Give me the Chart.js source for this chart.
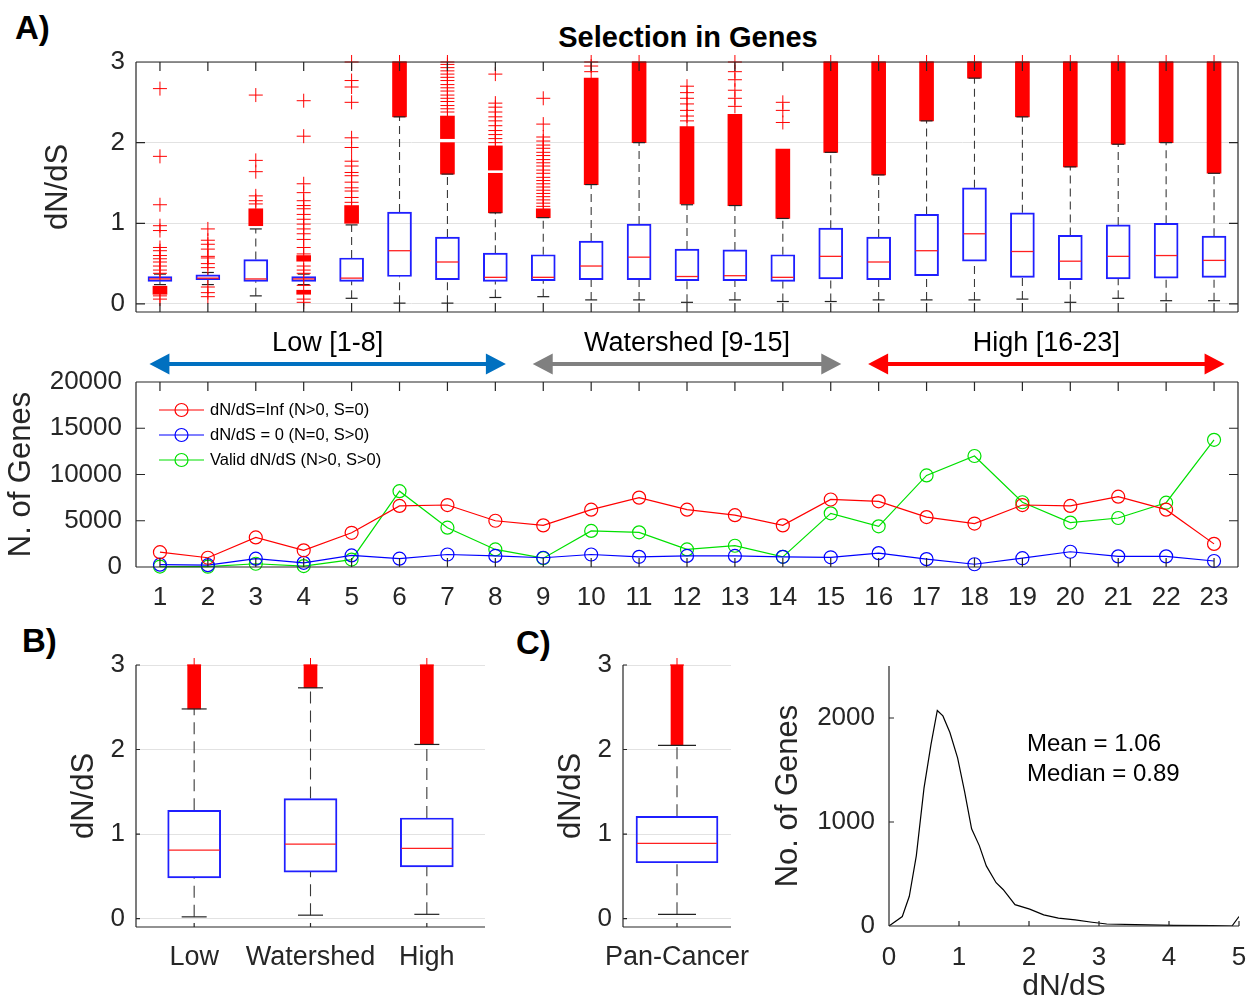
<!DOCTYPE html>
<html>
<head>
<meta charset="utf-8">
<title>Selection in Genes</title>
<script src="https://cdn.jsdelivr.net/npm/chart.js@4.4.1/dist/chart.umd.min.js"></script>
<style>
  html, body { margin: 0; padding: 0; background: #fff; }
  body { position: relative; width: 1255px; height: 998px; overflow: hidden; font-family: "Liberation Sans", Arial, sans-serif; color: #000; }
  canvas { position: absolute; }
  .tag { position: absolute; font-weight: bold; line-height: 1; white-space: nowrap; }
</style>
</head>
<body>
<div class="tag" style="left:15px; top:11px; font-size:33px;">A)</div>
<div class="tag" style="left:438px; width:500px; text-align:center; top:23px; font-size:29px;">Selection in Genes</div>
<div class="tag" style="left:22px; top:624px; font-size:33px;">B)</div>
<div class="tag" style="left:516px; top:626px; font-size:33px;">C)</div>

<canvas id="genesBox" width="1210" height="312" style="left:40px; top:30px;"></canvas>
<canvas id="geneCounts" width="1250" height="298" style="left:0px; top:322px;"></canvas>
<canvas id="groupBox" width="450" height="368" style="left:50px; top:630px;"></canvas>
<canvas id="panHist" width="520" height="368" style="left:755px; top:630px;"></canvas>
<canvas id="panBox" width="235" height="368" style="left:545px; top:630px;"></canvas>

<script>
// ---------- data ----------
const categories = [1, 2, 3, 4, 5, 6, 7, 8, 9, 10, 11, 12, 13, 14, 15, 16, 17, 18, 19, 20, 21, 22, 23];

// A) boxplot stats per category
const boxQ1  = [0.28, 0.30, 0.28, 0.28, 0.28, 0.34, 0.30, 0.28, 0.29, 0.30, 0.30, 0.29, 0.29, 0.28, 0.31, 0.30, 0.35, 0.53, 0.33, 0.30, 0.31, 0.32, 0.33];
const boxMed = [0.31, 0.32, 0.31, 0.31, 0.32, 0.66, 0.52, 0.33, 0.33, 0.47, 0.58, 0.34, 0.35, 0.33, 0.59, 0.52, 0.66, 0.87, 0.65, 0.53, 0.59, 0.60, 0.54];
const boxQ3  = [0.34, 0.36, 0.55, 0.34, 0.57, 1.14, 0.83, 0.63, 0.61, 0.78, 0.99, 0.68, 0.67, 0.61, 0.94, 0.83, 1.11, 1.44, 1.13, 0.85, 0.98, 1.00, 0.84];
const whiskLo = [0.24, 0.24, 0.10, 0.24, 0.07, 0.01, 0.01, 0.08, 0.09, 0.05, 0.05, 0.02, 0.05, 0.03, 0.03, 0.05, 0.05, 0.05, 0.06, 0.02, 0.07, 0.04, 0.04];
const whiskHi = [0.37, 0.39, 0.93, 0.37, 0.98, 2.32, 1.61, 1.13, 1.07, 1.48, 2.00, 1.23, 1.22, 1.06, 1.88, 1.60, 2.27, 2.80, 2.32, 1.70, 1.98, 2.00, 1.62];
// dense runs of outliers (they merge into solid red)
const outlierRuns = [
  [[0.12, 0.22]], [], [[0.97, 1.18]], [[0.53, 0.60], [0.12, 0.17]], [[1.00, 1.22]],
  [[2.32, 3.0]], [[1.61, 2.0], [2.05, 2.33]], [[1.13, 1.62], [1.66, 1.96]],
  [[1.07, 1.18]], [[1.48, 2.8]], [[2.0, 3.0]], [[1.24, 2.2]],
  [[1.22, 2.35]], [[1.06, 1.92]], [[1.88, 3.0]], [[1.6, 3.0]], [[2.27, 3.0]], [[2.8, 3.0]],
  [[2.32, 3.0]], [[1.7, 3.0]], [[1.98, 3.0]], [[2.0, 3.0]], [[1.62, 3.0]]
];
// single outliers
const outlierPts = [
  [2.67, 1.83, 1.23, 0.97, 0.91, 0.70, 0.66, 0.60, 0.56, 0.52, 0.47, 0.42, 0.38, 0.10, 0.06],
  [0.93, 0.79, 0.74, 0.68, 0.59, 0.57, 0.50, 0.45, 0.21, 0.14, 0.09],
  [2.59, 1.78, 1.64, 1.34, 1.28, 1.24],
  [2.52, 2.08, 1.49, 1.38, 1.28, 1.22, 1.18, 1.11, 1.05, 0.99, 0.93, 0.87, 0.80, 0.70, 0.62, 0.47, 0.42, 0.38, 0.23, 0.06, 0.02],
  [3.0, 2.77, 2.69, 2.50, 2.06, 1.94, 1.77, 1.71, 1.63, 1.59, 1.51, 1.44, 1.40, 1.32, 1.26],
  [3.0],
  [3.0, 2.97, 2.93, 2.89, 2.85, 2.81, 2.77, 2.72, 2.68, 2.64, 2.59, 2.55, 2.51, 2.46, 2.42, 2.38],
  [2.85, 2.49, 2.44, 2.38, 2.32, 2.27, 2.21, 2.15, 2.10, 2.05, 2.0],
  [2.55, 2.23, 2.07, 2.02, 1.97, 1.93, 1.88, 1.84, 1.79, 1.75, 1.71, 1.66, 1.62, 1.57, 1.53, 1.49, 1.45, 1.41, 1.37, 1.33, 1.29, 1.25, 1.21],
  [3.0, 2.95, 2.88], [3.0],
  [2.70, 2.62, 2.55, 2.48, 2.40, 2.33, 2.27],
  [3.0, 2.88, 2.78, 2.65, 2.55, 2.45],
  [2.50, 2.40, 2.25],
  [3.0], [3.0], [3.0], [3.0], [3.0], [3.0], [3.0], [3.0], [3.0]
];
const ratioTicks = [0, 1, 2, 3];

// A) gene counts
const seriesNames = ['dN/dS=Inf (N>0, S=0)', 'dN/dS = 0 (N=0, S>0)', 'Valid dN/dS (N>0, S>0)'];
const infCounts   = [1600, 1000, 3200, 1800, 3700, 6600, 6700, 5000, 4500, 6200, 7500, 6200, 5600, 4500, 7300, 7100, 5400, 4700, 6700, 6600, 7600, 6200, 2500];
const zeroCounts  = [250, 200, 900, 450, 1250, 900, 1350, 1200, 1000, 1350, 1100, 1200, 1200, 1100, 1050, 1500, 850, 300, 950, 1650, 1150, 1150, 650];
const validCounts = [50, 30, 350, 100, 800, 8200, 4250, 1900, 950, 3900, 3750, 1900, 2300, 1100, 5800, 4400, 9900, 12000, 7000, 4800, 5300, 6950, 13750];
const countTicks = [0, 5000, 10000, 15000, 20000];
const regionLabels = ['Low [1-8]', 'Watershed [9-15]', 'High [16-23]'];
const regionStart = [1, 9, 16];
const regionEnd = [8, 15, 23];

// B) grouped boxplots
const groupNames = ['Low', 'Watershed', 'High'];
const grpQ1  = [0.48, 0.55, 0.61];
const grpMed = [0.81, 0.88, 0.83];
const grpQ3  = [1.28, 1.42, 1.19];
const grpLo  = [0.02, 0.04, 0.05];
const grpHi  = [2.48, 2.73, 2.06];
const grpRuns = [[[2.48, 3.0]], [[2.73, 3.0]], [[2.06, 3.0]]];
const grpPts = [[3.0], [3.0], [3.0]];

// C) pan-cancer boxplot + distribution
const panNames = ['Pan-Cancer'];
const panQ1 = [0.66], panMed = [0.89], panQ3 = [1.21], panLo = [0.05], panHi = [2.05];
const panRuns = [[[2.05, 3.0]]];
const panPts = [[3.0]];
const histX = [0, 0.19, 0.29, 0.39, 0.50, 0.60, 0.69, 0.77, 0.87, 0.98, 1.08, 1.18, 1.29, 1.39, 1.53, 1.63, 1.80, 2.01, 2.21, 2.42, 2.66, 2.90, 3.11, 3.52, 4.07, 4.62, 4.90, 5.0];
const histY = [0, 91, 286, 675, 1325, 1747, 2072, 2020, 1860, 1617, 1292, 935, 773, 578, 416, 351, 205, 162, 107, 75, 58, 36, 19, 13, 6, 3, 0, 91];
const histXTicks = [0, 1, 2, 3, 4, 5];
const histYTicks = [0, 1000, 2000];
const statLines = ['Mean = 1.06', 'Median = 0.89'];

// ---------- helpers ----------
const FONT = '"Liberation Sans", Arial, sans-serif';
const AXIS = '#262626';
Chart.defaults.font.family = FONT;
Chart.defaults.color = AXIS;
Chart.defaults.animation = false;
Chart.defaults.events = [];
Chart.defaults.plugins.legend.display = false;
Chart.defaults.plugins.tooltip.enabled = false;

const fixTicks = vals => s => { s.ticks = vals.map(value => ({ value })); };

function boxDatasets(xs, q1, med, q3, lo, hi, runs, pts, s) {
  const runData = [];
  xs.forEach((x, i) => runs[i].forEach(r => runData.push({ x, y: r })));
  const whisk = [];
  xs.forEach((x, i) => {
    whisk.push({ x, y: q3[i] }, { x, y: hi[i] }, { x, y: null });
    whisk.push({ x, y: lo[i] }, { x, y: q1[i] }, { x, y: null });
  });
  return [
    { type: 'scatter', data: xs.flatMap((x, i) => pts[i].map(y => ({ x, y }))),
      pointStyle: 'cross', pointRadius: s.cross, borderColor: '#ff0000', borderWidth: 1, clip: false },
    { type: 'scatter', data: xs.map((x, i) => ({ x, y: med[i] })),
      pointStyle: 'line', pointRadius: s.box / 2 - 1, borderColor: '#ff2020', borderWidth: 1.3 },
    { type: 'scatter', data: xs.flatMap((x, i) => [{ x, y: lo[i] }, { x, y: hi[i] }]),
      pointStyle: 'line', pointRadius: s.cap, borderColor: '#222', borderWidth: 1.2, clip: false },
    { type: 'bar', data: xs.map((x, i) => ({ x, y: [q1[i], q3[i]] })), grouped: false,
      backgroundColor: 'rgba(0,0,0,0)', borderColor: '#1f1fff', borderWidth: 1.3, borderSkipped: false, barThickness: s.box },
    { type: 'line', data: whisk, borderColor: '#3a3a3a', borderWidth: 1.1, borderDash: s.dash,
      pointRadius: 0, spanGaps: false },
    { type: 'bar', data: runData, grouped: false, backgroundColor: '#ff0000', borderWidth: 0, barThickness: s.run, clip: false }
  ];
}

function axesDecor(cfg) {
  return {
    id: 'axesDecor',
    afterDatasetsDraw(chart) {
      const { ctx, chartArea: a, scales: { x, y } } = chart;
      ctx.save();
      ctx.strokeStyle = AXIS;
      ctx.lineWidth = 1.2;
      ctx.setLineDash([]);
      ctx.beginPath();
      const seg = (x1, y1, x2, y2) => { ctx.moveTo(x1, y1); ctx.lineTo(x2, y2); };
      if (cfg.frame.includes('l')) seg(a.left, a.top, a.left, a.bottom);
      if (cfg.frame.includes('r')) seg(a.right, a.top, a.right, a.bottom);
      if (cfg.frame.includes('t')) seg(a.left, a.top, a.right, a.top);
      if (cfg.frame.includes('b')) seg(a.left, a.bottom, a.right, a.bottom);
      cfg.xTicks.forEach(v => {
        const p = x.getPixelForValue(v);
        if (cfg.xSides.includes('b')) seg(p, a.bottom, p, a.bottom - cfg.len);
        if (cfg.xSides.includes('t')) seg(p, a.top, p, a.top + cfg.len);
      });
      cfg.yTicks.forEach(v => {
        const p = y.getPixelForValue(v);
        if (cfg.ySides.includes('l')) seg(a.left, p, a.left + cfg.len, p);
        if (cfg.ySides.includes('r')) seg(a.right, p, a.right - cfg.len, p);
      });
      ctx.stroke();
      if (cfg.extra) cfg.extra(chart, ctx);
      ctx.restore();
    }
  };
}

function ratioAxis(width, titlePad) {
  return {
    type: 'linear', min: -0.1, max: 3,
    afterBuildTicks: fixTicks(ratioTicks),
    afterFit: s => { s.width = width; },
    grid: { color: '#e2e2e2', drawTicks: false },
    border: { display: false },
    ticks: { font: { size: 26 }, padding: 11, callback: v => String(v) },
    title: { display: true, text: 'dN/dS', font: { size: 31 }, padding: { top: titlePad, bottom: 0 } }
  };
}

function drawArrow(ctx, x1, x2, y, color) {
  const head = 20, half = 10.5;
  ctx.strokeStyle = color;
  ctx.fillStyle = color;
  ctx.lineWidth = 4;
  ctx.beginPath();
  ctx.moveTo(x1 + head - 2, y);
  ctx.lineTo(x2 - head + 2, y);
  ctx.stroke();
  ctx.beginPath();
  ctx.moveTo(x1, y); ctx.lineTo(x1 + head, y - half); ctx.lineTo(x1 + head, y + half); ctx.closePath();
  ctx.moveTo(x2, y); ctx.lineTo(x2 - head, y - half); ctx.lineTo(x2 - head, y + half); ctx.closePath();
  ctx.fill();
}

// ---------- A) top: dN/dS per category ----------
new Chart(document.getElementById('genesBox'), {
  type: 'bar',
  data: { datasets: boxDatasets(categories, boxQ1, boxMed, boxQ3, whiskLo, whiskHi, outlierRuns, outlierPts,
    { box: 24, run: 14, cap: 6, cross: 7, dash: [8, 5] }) },
  options: {
    responsive: false,
    layout: { autoPadding: false, padding: { left: 0, top: 32, right: 12, bottom: 30 } },
    scales: {
      x: { type: 'linear', min: 0.5, max: 23.5, offset: false, display: false },
      y: ratioAxis(96, 0)
    }
  },
  plugins: [axesDecor({ frame: 'lrtb', len: 9, xTicks: categories, xSides: 'tb', yTicks: ratioTicks, ySides: 'lr' })]
});

// ---------- A) bottom: gene counts ----------
const seriesColors = ['#ff0000', '#0000ff', '#00e000'];
const regionColors = ['#0070c0', '#808080', '#ff0000'];
const countSeries = [infCounts, zeroCounts, validCounts];

new Chart(document.getElementById('geneCounts'), {
  type: 'line',
  data: {
    datasets: countSeries.map((vals, k) => ({
      label: seriesNames[k],
      data: categories.map((c, i) => ({ x: c, y: vals[i] })),
      borderColor: seriesColors[k], borderWidth: 1.2,
      pointStyle: 'circle', pointRadius: 6.5, pointBorderWidth: 1.2,
      pointBackgroundColor: 'rgba(0,0,0,0)', pointBorderColor: seriesColors[k],
      tension: 0, clip: false
    }))
  },
  options: {
    responsive: false,
    layout: { autoPadding: false, padding: { left: 0, top: 60, right: 12, bottom: 0 } },
    scales: {
      x: {
        type: 'linear', min: 0.5, max: 23.5, offset: false,
        afterBuildTicks: fixTicks(categories),
        afterFit: s => { s.height = 53; },
        grid: { display: false, drawTicks: false },
        border: { display: false },
        ticks: { font: { size: 26 }, padding: 15, autoSkip: false, maxRotation: 0, callback: v => String(v) }
      },
      y: {
        type: 'linear', min: 0, max: 20000,
        afterBuildTicks: fixTicks(countTicks),
        afterFit: s => { s.width = 136; },
        grid: { display: false, drawTicks: false },
        border: { display: false },
        ticks: { font: { size: 26 }, padding: 14, callback: v => String(v) },
        title: { display: true, text: 'N. of Genes', font: { size: 31 }, padding: { top: 3, bottom: 0 } }
      }
    }
  },
  plugins: [axesDecor({
    frame: 'lrtb', len: 9, xTicks: categories, xSides: 'tb', yTicks: countTicks, ySides: 'lr',
    extra(chart, ctx) {
      const { chartArea: a, scales: { x } } = chart;
      // range arrows
      regionLabels.forEach((label, k) => {
        const x1 = x.getPixelForValue(regionStart[k] - 0.22);
        const x2 = x.getPixelForValue(regionEnd[k] + 0.22);
        drawArrow(ctx, x1, x2, a.top - 18, regionColors[k]);
        ctx.fillStyle = '#000';
        ctx.font = '27px ' + FONT;
        ctx.textAlign = 'center';
        ctx.textBaseline = 'middle';
        ctx.fillText(label, x.getPixelForValue((regionStart[k] + regionEnd[k]) / 2), a.top - 38);
      });
      // legend
      const lx = a.left + 23;
      seriesNames.forEach((name, k) => {
        const ly = a.top + 28 + k * 25;
        ctx.strokeStyle = seriesColors[k];
        ctx.lineWidth = 1.2;
        ctx.beginPath();
        ctx.moveTo(lx, ly); ctx.lineTo(lx + 45, ly);
        ctx.moveTo(lx + 22.5 + 6.5, ly);
        ctx.arc(lx + 22.5, ly, 6.5, 0, Math.PI * 2);
        ctx.stroke();
        ctx.fillStyle = '#000';
        ctx.font = '16.5px ' + FONT;
        ctx.textAlign = 'left';
        ctx.textBaseline = 'middle';
        ctx.fillText(name, lx + 51, ly);
      });
    }
  })]
});

// ---------- B) grouped ----------
const groupPos = groupNames.map((n, i) => i + 1);
new Chart(document.getElementById('groupBox'), {
  type: 'bar',
  data: { datasets: boxDatasets(groupPos, grpQ1, grpMed, grpQ3, grpLo, grpHi, grpRuns, grpPts,
    { box: 53, run: 13, cap: 12.5, cross: 7, dash: [12, 7] }) },
  options: {
    responsive: false,
    layout: { autoPadding: false, padding: { left: 0, top: 35, right: 15, bottom: 0 } },
    scales: {
      x: {
        type: 'linear', min: 0.5, max: 3.5, offset: false,
        afterBuildTicks: fixTicks(groupPos),
        afterFit: s => { s.height = 71; s.paddingLeft = 0; s.paddingRight = 0; },
        grid: { display: false, drawTicks: false },
        border: { display: false },
        ticks: { font: { size: 27 }, padding: 14, autoSkip: false, maxRotation: 0, callback: v => groupNames[v - 1] }
      },
      y: ratioAxis(86, 16)
    }
  },
  plugins: [axesDecor({ frame: 'lb', len: 4, xTicks: groupPos, xSides: 'b', yTicks: ratioTicks, ySides: 'l' })]
});

// ---------- C) pan-cancer box ----------
const panPos = [1];
new Chart(document.getElementById('panBox'), {
  type: 'bar',
  data: { datasets: boxDatasets(panPos, panQ1, panMed, panQ3, panLo, panHi, panRuns, panPts,
    { box: 82, run: 12, cap: 19, cross: 7, dash: [12, 7] }) },
  options: {
    responsive: false,
    layout: { autoPadding: false, padding: { left: 0, top: 35, right: 49, bottom: 0 } },
    scales: {
      x: {
        type: 'linear', min: 0.5, max: 1.5, offset: false,
        afterBuildTicks: fixTicks(panPos),
        afterFit: s => { s.height = 71; s.paddingLeft = 0; s.paddingRight = 0; },
        grid: { display: false, drawTicks: false },
        border: { display: false },
        ticks: { font: { size: 27 }, padding: 14, autoSkip: false, maxRotation: 0, callback: v => panNames[v - 1] }
      },
      y: ratioAxis(78, 8)
    }
  },
  plugins: [axesDecor({ frame: 'lb', len: 4, xTicks: panPos, xSides: 'b', yTicks: ratioTicks, ySides: 'l' })]
});

// ---------- C) distribution ----------
new Chart(document.getElementById('panHist'), {
  type: 'line',
  data: { datasets: [{ data: histX.map((x, i) => ({ x, y: histY[i] })), borderColor: '#000', borderWidth: 1.2, pointRadius: 0, tension: 0 }] },
  options: {
    responsive: false,
    layout: { autoPadding: false, padding: { left: 0, top: 36, right: 36, bottom: 0 } },
    scales: {
      x: {
        type: 'linear', min: 0, max: 5,
        afterBuildTicks: fixTicks(histXTicks),
        afterFit: s => { s.height = 72; },
        grid: { display: false, drawTicks: false },
        border: { display: false },
        ticks: { font: { size: 26 }, padding: 16, maxRotation: 0, callback: v => String(v) },
        title: { display: true, text: 'dN/dS', font: { size: 30 }, padding: { top: 0, bottom: -7 } }
      },
      y: {
        type: 'linear', min: 0, max: 2500,
        afterBuildTicks: fixTicks(histYTicks),
        afterFit: s => { s.width = 134; },
        grid: { display: false, drawTicks: false },
        border: { display: false },
        ticks: { font: { size: 26 }, padding: 14, callback: v => String(v) },
        title: { display: true, text: 'No. of Genes', font: { size: 31 }, padding: { top: 15, bottom: 0 } }
      }
    }
  },
  plugins: [axesDecor({
    frame: 'lb', len: 5, xTicks: histXTicks, xSides: 'b', yTicks: histYTicks, ySides: 'l',
    extra(chart, ctx) {
      const { scales: { x, y } } = chart;
      ctx.fillStyle = '#000';
      ctx.font = '24px ' + FONT;
      ctx.textAlign = 'left';
      ctx.textBaseline = 'middle';
      statLines.forEach((t, k) => ctx.fillText(t, x.getPixelForValue(1.97), y.getPixelForValue(1750 - k * 295)));
    }
  })]
});
</script>
</body>
</html>
